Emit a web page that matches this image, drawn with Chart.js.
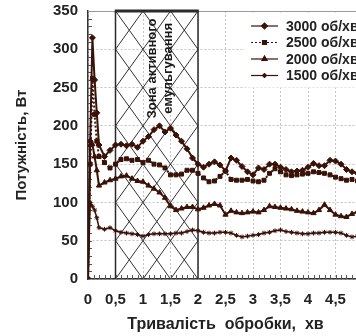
<!DOCTYPE html>
<html>
<head>
<meta charset="utf-8">
<script src="https://cdn.jsdelivr.net/npm/chart.js@4.4.0/dist/chart.umd.min.js"></script>
<style>
  html, body { margin: 0; padding: 0; background: #fff; overflow: hidden; }
</style>
</head>
<body>
<canvas id="grafico" width="368" height="336"></canvas>
<script>
// Час, хв
const times = [0, 0.04, 0.08, 0.12, 0.16, 0.2,
  0.3, 0.4, 0.5, 0.6, 0.7, 0.8, 0.9, 1.0,
  1.1, 1.2, 1.3, 1.4, 1.5, 1.6, 1.7, 1.8, 1.9, 2.0,
  2.1, 2.2, 2.3, 2.4, 2.5, 2.6, 2.7, 2.8, 2.9, 3.0,
  3.1, 3.2, 3.3, 3.4, 3.5, 3.6, 3.7, 3.8, 3.9, 4.0,
  4.1, 4.2, 4.3, 4.4, 4.5, 4.6, 4.7, 4.8, 4.9, 5.0];

// Потужність, Вт
const p3000 = [0, 180, 315, 260, 217, 175,
  160, 168, 175, 176, 174, 176, 172, 180,
  186, 195, 200, 192, 197, 188, 180, 170, 158, 150,
  146, 150, 153, 149, 141, 158, 155, 147, 140, 136,
  145, 143, 150, 150, 146, 143, 140, 141, 142, 146,
  151, 148, 148, 155, 154, 150, 143, 140, 138, 140];
const p2500 = [0, 150, 262, 215, 180, 160,
  152, 145, 150, 156, 157, 155, 156, 152,
  155, 150, 149, 145, 136, 136, 137, 142, 142, 138,
  132, 127, 128, 134, 141, 130, 129, 129, 130, 128,
  127, 129, 138, 144, 140, 136, 135, 136, 137, 138,
  140, 139, 138, 136, 133, 131, 129, 130, 128, 130];
const p2000 = [0, 175, 176, 160, 142, 122,
  126, 129, 131, 134, 135, 131, 128, 127,
  122, 118, 113, 106, 95, 90, 92, 94, 94, 91,
  93, 96, 98, 96, 84, 89, 87, 86, 87, 88,
  87, 90, 95, 94, 93, 92, 91, 89, 88, 87,
  86, 90, 97, 90, 84, 82, 81, 85, 88, 89];
const p1500 = [0, 100, 95, 90, 80, 67,
  65, 67, 63, 61, 60, 59, 58, 56,
  58, 59, 59, 59, 59, 60, 60, 62, 64, 63,
  61, 60, 60, 61, 61, 60, 57, 55, 56, 57,
  58, 60, 61, 63, 64, 62, 61, 60, 59, 59,
  60, 60, 61, 61, 61, 60, 57, 55, 56, 57];

const seriesLabels = ['3000 об/хв', '2500 об/хв', '2000 об/хв', '1500 об/хв'];
const yTicks = [0, 50, 100, 150, 200, 250, 300, 350];
const zoneStart = 0.5, zoneEnd = 2;
const zoneText = ['Зона активного', 'емульгування'];

const ink = '#3a1208';
const pts = arr => arr.map((v, i) => ({ x: times[i], y: v }));

Chart.defaults.font.family = "'Liberation Sans', Arial, sans-serif";
Chart.defaults.color = '#222';

// Заштрихована зона + дрібні поділки
const zonePlugin = {
  id: 'zone',
  beforeDatasetsDraw(chart) {
    const { ctx, scales: { x, y }, chartArea: a } = chart;
    const px = v => x.getPixelForValue(v), py = v => y.getPixelForValue(v);
    const x0 = px(zoneStart), x1 = px(zoneEnd), top = py(350), bot = py(0);
    ctx.save();
    // верхня межа графіка
    ctx.strokeStyle = '#999'; ctx.lineWidth = 1;
    ctx.beginPath(); ctx.moveTo(a.left, a.top + 0.5); ctx.lineTo(a.right, a.top + 0.5); ctx.stroke();
    // штриховка
    ctx.beginPath(); ctx.rect(x0, top, x1 - x0, bot - top); ctx.clip();
    ctx.strokeStyle = '#333'; ctx.lineWidth = 1;
    ctx.beginPath();
    for (let c = -3; c <= 2; c += 0.5) { ctx.moveTo(px(c), py(0)); ctx.lineTo(px(c + 3.5), py(350)); }
    for (let c = 0.5; c <= 5.5; c += 0.5) { ctx.moveTo(px(c), py(0)); ctx.lineTo(px(c - 3.5), py(350)); }
    ctx.stroke();
    ctx.restore();
    ctx.save();
    ctx.strokeStyle = '#2a2a2a';
    ctx.lineWidth = 1.5;
    ctx.beginPath();
    ctx.moveTo(x0, bot); ctx.lineTo(x0, top);
    ctx.moveTo(x1, bot); ctx.lineTo(x1, top);
    ctx.stroke();
    ctx.lineWidth = 3;
    ctx.beginPath(); ctx.moveTo(x0 - 0.75, top); ctx.lineTo(x1 + 0.75, top); ctx.stroke();
    // дрібні поділки
    ctx.lineWidth = 1; ctx.strokeStyle = '#555';
    ctx.beginPath();
    for (let v = 0.1; v < 5; v += 0.1) { const xx = Math.round(px(v)) + 0.5; ctx.moveTo(xx, bot); ctx.lineTo(xx, bot - 4); }
    for (let v = 10; v < 350; v += 10) { const yy = Math.round(py(v)) + 0.5; ctx.moveTo(a.left, yy); ctx.lineTo(a.left + 4, yy); }
    ctx.stroke();
    // підпис зони
    ctx.fillStyle = '#1a1a1a';
    ctx.font = "bold 13px 'Liberation Sans', Arial, sans-serif";
    ctx.textAlign = 'center'; ctx.textBaseline = 'middle';
    [[1.17, zoneText[0]], [1.47, zoneText[1]]].forEach(([xv, t]) => {
      ctx.save();
      ctx.translate(px(xv), py(275));
      ctx.rotate(-Math.PI / 2);
      ctx.fillText(t, 0, 0);
      ctx.restore();
    });
    ctx.restore();
  }
};

// Легенда як в оригіналі
const legendPlugin = {
  id: 'ownLegend',
  afterDatasetsDraw(chart) {
    const { ctx, chartArea: a } = chart;
    ctx.save();
    ctx.fillStyle = '#fff';
    ctx.fillRect(245, a.top + 1.5, a.right - 245, 75);
    ctx.font = "bold 14px 'Liberation Sans', Arial, sans-serif";
    ctx.textBaseline = 'middle';
    chart.data.datasets.forEach((ds, i) => {
      const yy = 26 + i * 16.5;
      ctx.strokeStyle = ink; ctx.fillStyle = ink;
      ctx.lineWidth = 1.2;
      ctx.setLineDash(ds.borderDash || []);
      ctx.beginPath(); ctx.moveTo(251, yy); ctx.lineTo(278, yy); ctx.stroke();
      ctx.setLineDash([]);
      Chart.helpers.drawPoint(ctx, { pointStyle: ds.pointStyle, radius: ds.pointRadius, borderWidth: 1, rotation: 0 }, 264.5, yy);
      ctx.fillStyle = '#222';
      ctx.fillText(ds.label, 286, yy + 1);
    });
    ctx.restore();
  }
};

const mk = (i, data, style, extra) => Object.assign({
  label: seriesLabels[i],
  data: pts(data),
  borderColor: ink,
  backgroundColor: ink,
  pointBackgroundColor: ink,
  pointBorderColor: ink,
  borderWidth: 2,
  pointStyle: style,
  pointRadius: 2.8,
  pointBorderWidth: 1,
  tension: 0
}, extra || {});

new Chart(document.getElementById('grafico'), {
  type: 'line',
  data: {
    datasets: [
      mk(0, p3000, 'rectRot', { pointRadius: 3 }),
      mk(1, p2500, 'rect', { borderDash: [2, 2], pointRadius: 2.8 }),
      mk(2, p2000, 'triangle', { pointRadius: 3 }),
      mk(3, p1500, 'star', { pointRadius: 2.4, borderWidth: 1.5 })
    ]
  },
  plugins: [zonePlugin, legendPlugin],
  options: {
    responsive: false,
    animation: false,
    layout: { padding: { top: 11, right: 4, left: 0, bottom: 0 } },
    plugins: { legend: { display: false }, tooltip: { enabled: false } },
    scales: {
      x: {
        type: 'linear', min: 0, max: 5,
        afterFit: s => { s.height = 57; s.paddingLeft = 0; s.paddingRight = 0; },
        ticks: {
          stepSize: 0.5, padding: 12, color: '#222',
          font: { size: 15, weight: 'bold' },
          callback: v => String(v).replace('.', ',')
        },
        grid: { color: '#c4c4c4', lineWidth: 1, drawTicks: false },
        border: { color: '#333', width: 1.5, dash: [2, 2] },
        title: {
          display: true, text: 'Тривалість  обробки,  хв',
          font: { size: 16, weight: 'bold' }, color: '#222',
          padding: { top: 0, bottom: 2 }
        }
      },
      y: {
        min: 0, max: 350,
        afterFit: s => { s.width = 88; s.paddingTop = 0; s.paddingBottom = 0; },
        afterBuildTicks: s => { s.ticks = yTicks.map(v => ({ value: v })); },
        ticks: { padding: 10, color: '#222', font: { size: 15, weight: 'bold' } },
        grid: { color: '#c4c4c4', lineWidth: 1, drawTicks: false },
        border: { color: '#333', width: 1.5, dash: [2, 2] },
        title: {
          display: true, text: 'Потужність, Вт',
          font: { size: 15, weight: 'bold' }, color: '#222',
          padding: { top: 13, bottom: 0 }
        }
      }
    }
  }
});
</script>
</body>
</html>
